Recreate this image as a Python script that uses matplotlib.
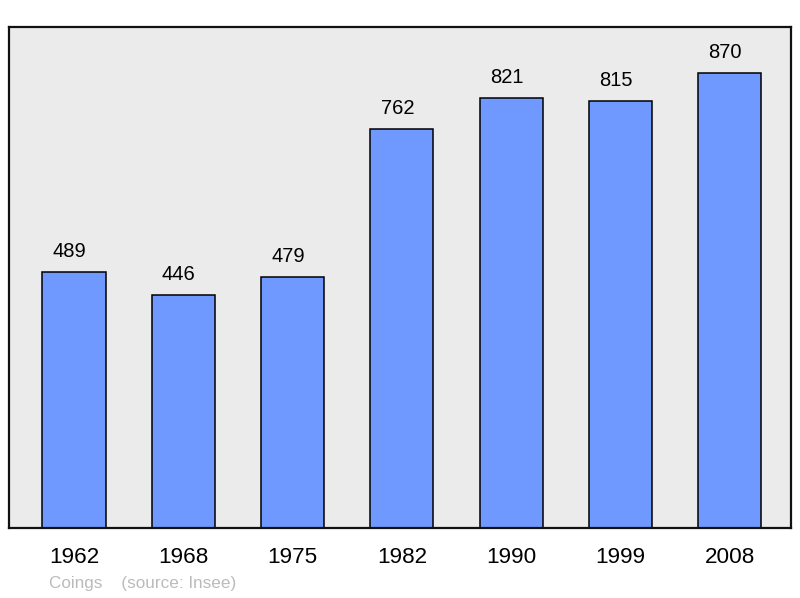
import matplotlib
matplotlib.use("Agg")
import matplotlib.pyplot as plt

# Données
years = ["1962", "1968", "1975", "1982", "1990", "1999", "2008"]
population = [489, 446, 479, 762, 821, 815, 870]
source_text = "Coings    (source: Insee)"

plt.rcParams['font.family'] = ['Liberation Sans', 'DejaVu Sans']

fig = plt.figure(figsize=(8, 5.98), dpi=100)
ax = fig.add_axes([9/800, 70/598, 782/800, 501/598])
ax.set_facecolor("#ebebeb")

x = list(range(len(years)))
ax.bar(x, population, width=0.577, color="#7099ff", edgecolor="black", linewidth=1.1, zorder=2)

# Valeurs au-dessus des barres
for xi, val in zip(x, population):
    ax.annotate(str(val), (xi, val), xytext=(-3.3, 10.8), textcoords="offset points",
                ha="center", va="baseline", fontsize=14.5)

ax.set_xlim(-0.595, 6.56)
ax.set_ylim(0, 957)
ax.set_yticks([])
ax.set_xticks(x)
ax.set_xticklabels(years, fontsize=16.2)
ax.tick_params(axis="x", length=0, pad=14)

for sp in ax.spines.values():
    sp.set_linewidth(1.6)
    sp.set_color("#111111")

fig.text(49/800, 1 - 588/598, source_text, fontsize=12.3, color="#bbbbbb", va="baseline", ha="left")

fig.savefig("out.png", dpi=100)
